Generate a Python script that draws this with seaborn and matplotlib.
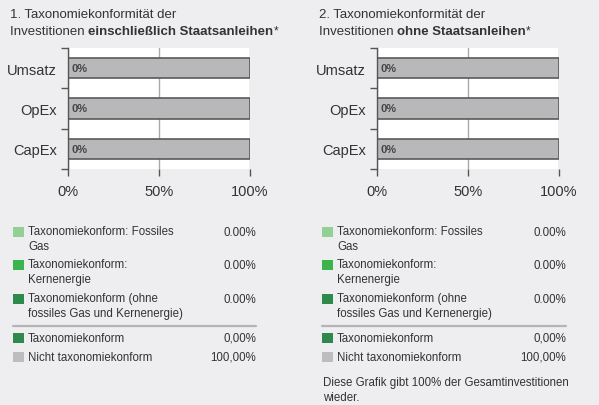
import matplotlib
matplotlib.use("Agg")
import matplotlib.pyplot as plt
import seaborn as sns
import pandas as pd
from matplotlib.patches import Rectangle

# data
categories = ["Umsatz", "OpEx", "CapEx"]
konform_1 = [0, 0, 0]
nicht_konform_1 = [100, 100, 100]
konform_2 = [0, 0, 0]
nicht_konform_2 = [100, 100, 100]
x_ticks = [0, 50, 100]
x_tick_labels = ["0%", "50%", "100%"]

legend_labels = [
    "Taxonomiekonform: Fossiles\nGas",
    "Taxonomiekonform:\nKernenergie",
    "Taxonomiekonform (ohne\nfossiles Gas und Kernenergie)",
]
legend_values_1 = ["0.00%", "0.00%", "0.00%"]
legend_values_2 = ["0.00%", "0.00%", "0.00%"]
summary_labels = ["Taxonomiekonform", "Nicht taxonomiekonform"]
summary_values_1 = ["0,00%", "100,00%"]
summary_values_2 = ["0,00%", "100,00%"]
legend_colors = ["#93d096", "#3cb44e", "#2d8a4c"]
summary_colors = ["#2d8a4c", "#bdbdbf"]

titles = [
    ("1. Taxonomiekonformität der", "Investitionen ", "einschließlich Staatsanleihen", "*"),
    ("2. Taxonomiekonformität der", "Investitionen ", "ohne Staatsanleihen", "*"),
]
footnote = "Diese Grafik gibt 100% der Gesamtinvestitionen\nwieder."

BG = "#eeeef0"
TXT = "#333333"

sns.set_theme(style="white")
plt.rcParams["font.family"] = ["Liberation Sans", "DejaVu Sans"]

W, H = 599, 406
fig = plt.figure(figsize=(W / 100, H / 100), dpi=100, facecolor=BG)


def px_axes(x0, y0, x1, y1):
    return fig.add_axes([x0 / W, 1 - y1 / H, (x1 - x0) / W, (y1 - y0) / H])


def draw_bars(ax, konform, nicht):
    df = pd.DataFrame({"Kategorie": categories, "Wert": nicht})
    sns.barplot(data=df, x="Wert", y="Kategorie", orient="h", color="#b8b8ba",
                edgecolor="#5a5a5a", linewidth=1.2, width=0.5, saturation=1, ax=ax)
    ax.set_facecolor("white")
    ax.set_xlim(0, 100)
    ax.set_ylim(2.5, -0.5)
    ax.set_xlabel("")
    ax.set_ylabel("")
    for i, v in enumerate(konform):
        ax.text(2, i, f"{v}%", ha="left", va="center", fontsize=8,
                fontweight="bold", color="#444444")
    ax.set_xticks(x_ticks)
    ax.set_xticklabels(x_tick_labels, fontsize=10.5, color=TXT)
    ax.set_yticks(range(len(categories)))
    ax.set_yticklabels(categories, fontsize=10.5, color=TXT)
    ax.set_yticks([-0.5, 0.5, 1.5, 2.5], minor=True)
    ax.tick_params(axis="y", which="major", length=0, pad=8)
    ax.tick_params(axis="y", which="minor", left=True, length=5, width=1, color="#555555")
    ax.tick_params(axis="x", bottom=True, length=5, width=1, color="#555555", pad=6)
    ax.xaxis.grid(True, color="#aaaaaa", linewidth=1)
    ax.set_axisbelow(True)
    for s in ["top", "right", "bottom"]:
        ax.spines[s].set_visible(False)
    ax.spines["left"].set_color("#555555")
    ax.spines["left"].set_linewidth(1)


ax1 = px_axes(68, 49, 250, 170)
draw_bars(ax1, konform_1, nicht_konform_1)
ax2 = px_axes(377, 49, 559, 170)
draw_bars(ax2, konform_2, nicht_konform_2)

# overlay for titles and legends in pixel coordinates
lax = fig.add_axes([0, 0, 1, 1])
lax.set_xlim(0, W)
lax.set_ylim(H, 0)
lax.axis("off")
lax.patch.set_alpha(0)

renderer = fig.canvas.get_renderer()
FS_T = 9.5
FS_L = 8.3

for (line1, pre, bold, star), x0 in zip(titles, [10, 319]):
    lax.text(x0, 15, line1, fontsize=FS_T, color=TXT, ha="left", va="center")
    t = lax.text(x0, 32, pre, fontsize=FS_T, color=TXT, ha="left", va="center")
    bb = t.get_window_extent(renderer)
    xb = bb.x1 * W / fig.bbox.width
    t2 = lax.text(xb, 32, bold, fontsize=FS_T, color=TXT, ha="left", va="center",
                  fontweight="bold")
    bb2 = t2.get_window_extent(renderer)
    xs = bb2.x1 * W / fig.bbox.width
    lax.text(xs, 31, star, fontsize=FS_T - 1, color=TXT, ha="left", va="center")

row_y = [233, 266, 300]
sum_y = [339, 358]
for sx, vx, vals, svals in [(13, 256, legend_values_1, summary_values_1),
                            (322, 566, legend_values_2, summary_values_2)]:
    for y, lab, val, col in zip(row_y, legend_labels, vals, legend_colors):
        lax.add_patch(Rectangle((sx, y - 5), 11, 10, color=col, lw=0))
        lax.text(sx + 15, y - 7, lab, fontsize=FS_L, color=TXT, ha="left", va="top",
                 linespacing=1.3)
        lax.text(vx, y, val, fontsize=FS_L, color=TXT, ha="right", va="center")
    lax.plot([sx, vx], [327, 327], color="#b5b5b7", lw=1.6)
    for y, lab, val, col in zip(sum_y, summary_labels, svals, summary_colors):
        lax.add_patch(Rectangle((sx, y - 5), 11, 10, color=col, lw=0))
        lax.text(sx + 15, y, lab, fontsize=FS_L, color=TXT, ha="left", va="center")
        lax.text(vx, y, val, fontsize=FS_L, color=TXT, ha="right", va="center")

lax.text(323, 377, footnote, fontsize=FS_L, color=TXT, ha="left", va="top",
         linespacing=1.3)

fig.savefig("out.png", dpi=100, facecolor=BG)
